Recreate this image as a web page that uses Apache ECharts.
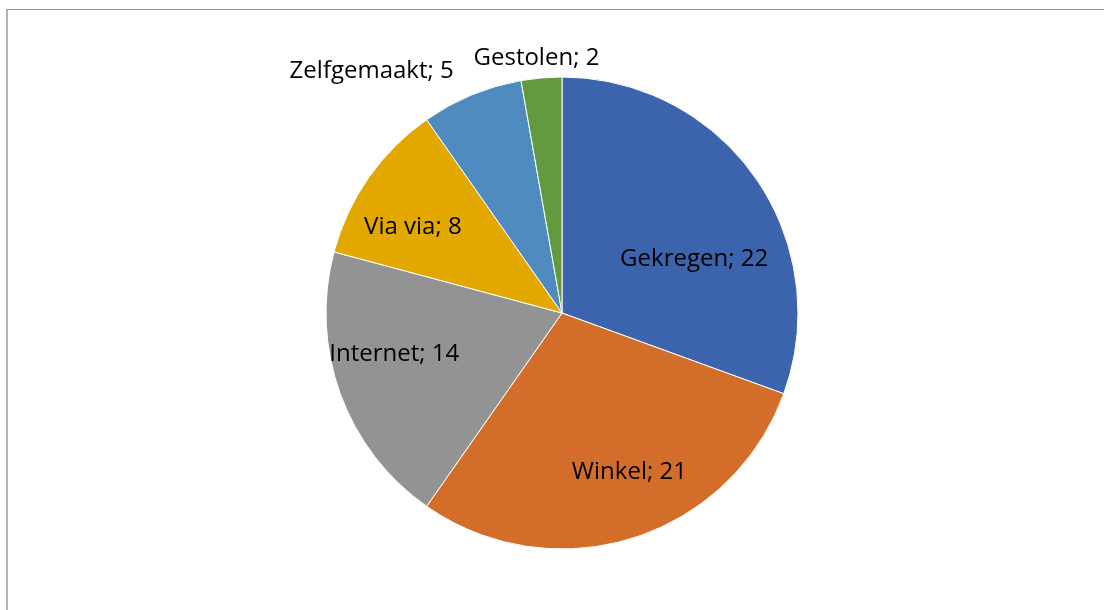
<!DOCTYPE html>
<html>
<head>
<meta charset="utf-8">
<script src="https://cdn.jsdelivr.net/npm/echarts@6/dist/echarts.min.js"></script>
<style>
  html, body { margin: 0; padding: 0; background: #fff; }
  #frame { position: absolute; left: 6px; top: 9px; width: 1200px; height: 700px;
           border-left: 2px solid #b4b4b4; border-top: 1px solid #8c8c8c; box-sizing: border-box; }
  #chart { position: absolute; left: 0; top: 0; width: 1104px; height: 610px; }
</style>
</head>
<body>
<div id="frame"></div>
<div id="chart"></div>
<script>
const categories = ['Gekregen', 'Winkel', 'Internet', 'Via via', 'Zelfgemaakt', 'Gestolen'];
const values = [22, 21, 14, 8, 5, 2];
const colors = ['#3B64AD', '#D36E2A', '#939393', '#E2A800', '#4F8BBF', '#629A3F'];
// label nudges (style only), relative to ECharts' inner label anchor
const labelNudge = [[33, 16], [31, 44], [-54, 0], [-50, -16], [-144, -130], [-15, -134]];

const chart = echarts.init(document.getElementById('chart'), null, { renderer: 'canvas' });
chart.setOption({
  animation: false,
  backgroundColor: 'transparent',
  series: [{
    type: 'pie',
    center: [562, 313],
    radius: [0, 236],
    startAngle: 90,
    clockwise: true,
    avoidLabelOverlap: false,
    itemStyle: { borderColor: '#ffffff', borderWidth: 1 },
    label: {
      show: true,
      position: 'inside',
      formatter: '{b}; {c}',
      color: '#000000',
      fontFamily: '"Open Sans", "Noto Sans", sans-serif',
      fontSize: 24
    },
    labelLine: { show: false },
    emphasis: { disabled: true },
    labelLayout: function (params) {
      const n = labelNudge[params.dataIndex];
      return { dx: n[0], dy: n[1] };
    },
    data: categories.map((c, i) => ({ name: c, value: values[i], itemStyle: { color: colors[i] } }))
  }]
});
</script>
</body>
</html>
